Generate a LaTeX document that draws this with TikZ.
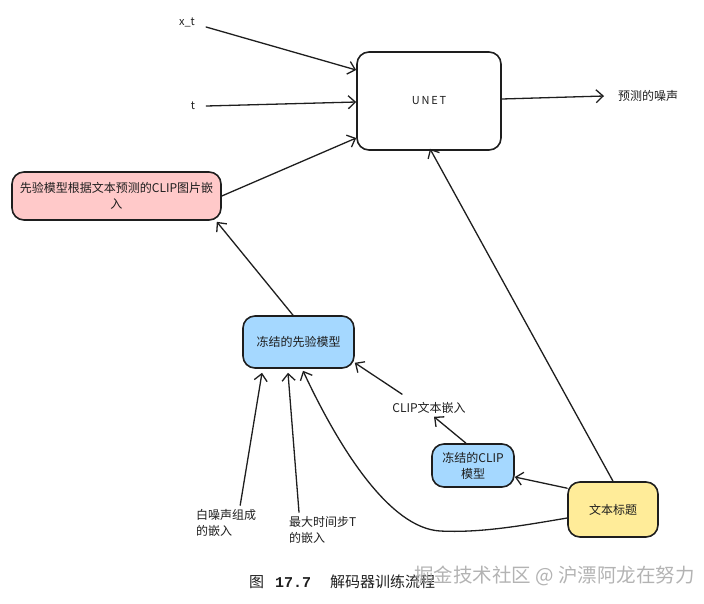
\documentclass[tikz,border=0pt]{standalone}
\usepackage{fontspec}
\setmainfont{Noto Sans CJK SC}
\newfontfamily\capmono{Liberation Mono}
\usetikzlibrary{arrows.meta,calc}
\definecolor{ink}{HTML}{1E1E1E}
\definecolor{pinkfill}{HTML}{FFC9C9}
\definecolor{bluefill}{HTML}{A5D8FF}
\definecolor{yellowfill}{HTML}{FFEC99}
\begin{document}
\begin{tikzpicture}[x=1pt,y=-1pt,
  box/.style={draw=ink, line width=1.6pt, rounded corners=12pt, inner sep=0pt,
    align=center, text=ink, font=\fontsize{12}{16}\selectfont},
  lbl/.style={inner sep=1pt, text=ink, font=\fontsize{12}{16}\selectfont},
  arr/.style={draw=ink, line width=1.3pt, line cap=round, line join=round,
    -{Straight Barb[length=7pt,width=13pt,line width=1.3pt]}},
]
\useasboundingbox (0,0) rectangle (704,603);

% nodes
\node[box, minimum width=144pt, minimum height=98pt, font=\fontsize{11}{12}\selectfont] (unet) at (429,101) {U\,N\,E\,T};
\node[box, fill=pinkfill, minimum width=209pt, minimum height=48pt] (pink) at (116.5,196) {先验模型根据文本预测的CLIP图片嵌\\入};
\node[box, fill=bluefill, minimum width=111pt, minimum height=52pt] (prior) at (298.5,342) {冻结的先验模型};
\node[box, fill=bluefill, minimum width=82pt, minimum height=43pt] (clip) at (473,465.5) {冻结的CLIP\\模型};
\node[box, fill=yellowfill, minimum width=90pt, minimum height=55pt] (title) at (613,509.5) {文本标题};

\node[lbl, font=\fontsize{11}{14}\selectfont] (xt) at (187,22) {x\_t};
\node[lbl, font=\fontsize{11}{14}\selectfont] (t) at (193,106) {t};
\node[lbl, anchor=west] (pred) at (617,96) {预测的噪声};
\node[lbl] (clipemb) at (429,408) {CLIP文本嵌入};
\node[lbl, anchor=west, align=left] (noise) at (195,523) {白噪声组成\\的嵌入};
\node[lbl, anchor=west, align=left] (maxt) at (288,530) {最大时间步T\\的嵌入};

% caption and watermark
\node[anchor=west, inner sep=0pt, text=ink, font=\fontsize{15}{17}\selectfont] (cap) at (249,582)
  {图\hspace{11pt}{\capmono\bfseries 17.7}\hspace{19pt}解码器训练流程};
\node[anchor=west, inner sep=0pt, text=gray!70, opacity=0.85, font=\fontsize{19.5}{21}\selectfont] (wm) at (414,576)
  {掘金技术社区 @ 沪漂阿龙在努力};

% connectors
\draw[arr] ([xshift=10pt,yshift=-5pt]xt.east) -- ([yshift=31pt]unet.west);
\draw[arr] ([xshift=10pt]t.east) -- ([yshift=-1pt]unet.west);
\draw[arr] (pink.east) -- ([yshift=-37pt]unet.west);
\draw[arr] ([xshift=-5.5pt]prior.north) -- ([xshift=-5pt,yshift=-1pt]pink.south east);
\draw[arr] ([yshift=2pt]unet.east) -- ([xshift=-13pt]pred.west);
\draw[arr] (title.north) -- ([xshift=1pt,yshift=2pt]unet.south);
\draw[arr] ([yshift=-7pt]title.north west) -- ([yshift=-11.5pt]clip.east);
\draw[arr] ([xshift=-7pt]clip.north) -- ([xshift=5pt,yshift=-2pt]clipemb.south);
\draw[arr] ([xshift=11pt,yshift=7pt]clipemb.north west) -- ([yshift=6pt]prior.south east);
\draw[arr] ([xshift=14pt,yshift=3pt]noise.north) -- ([xshift=-36.5pt,yshift=-4pt]prior.south);
\draw[arr] ([xshift=11pt,yshift=3pt]maxt.north west) -- ([xshift=-10.5pt,yshift=-4pt]prior.south);
\draw[arr] ([yshift=-8.5pt]title.west) .. controls (520,526) and (480,533) .. (440,531)
  .. controls (390,528) and (340,450) .. ([xshift=4.5pt,yshift=-2pt]prior.south);
\end{tikzpicture}
\end{document}
